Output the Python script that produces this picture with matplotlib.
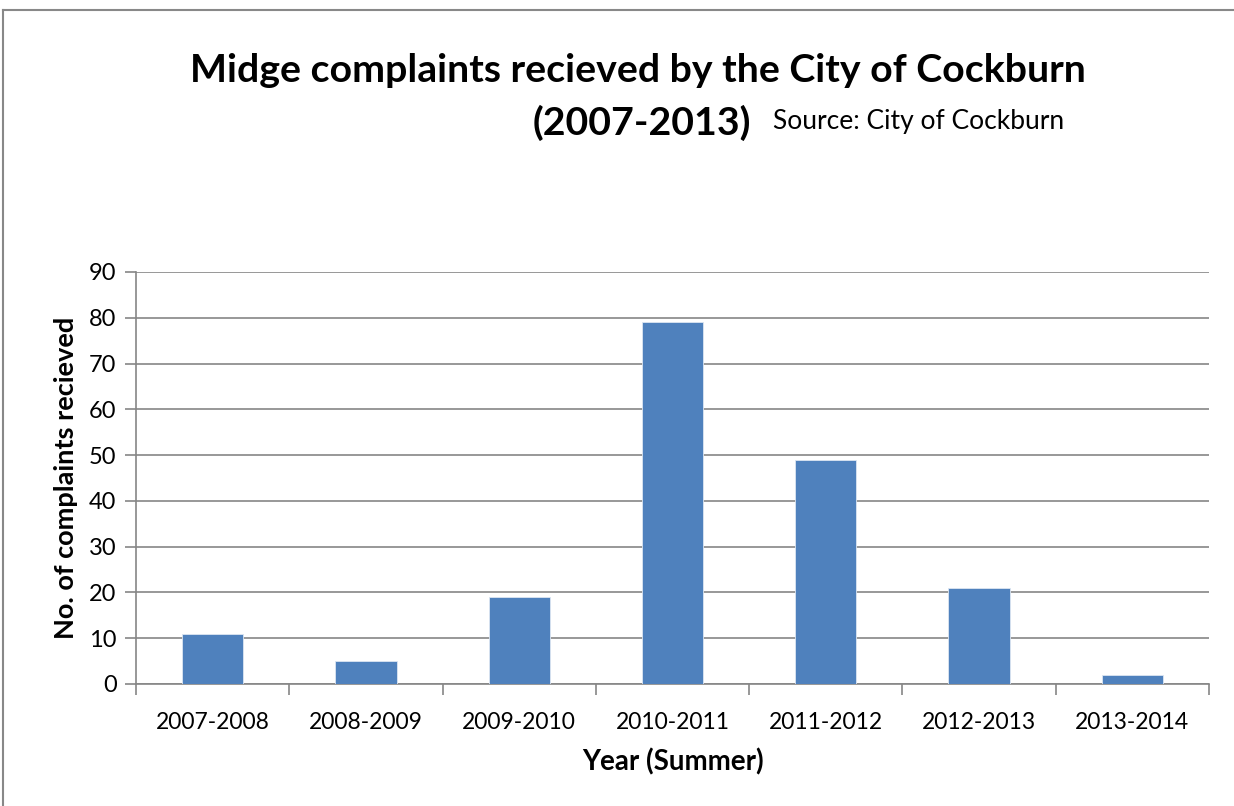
"""
Midge complaints bar chart (Excel-style column chart).
"""

import matplotlib.pyplot as plt
from matplotlib.lines import Line2D
import numpy as np

plt.rcParams["font.family"] = ["Lato", "DejaVu Sans"]

seasons = ["2007-2008", "2008-2009", "2009-2010", "2010-2011",
           "2011-2012", "2012-2013", "2013-2014"]
complaints = [11, 5, 19, 79, 49, 21, 2]
y_ticks = list(range(0, 100, 10))

BAR_COLOR = "#4F81BD"
GRID_COLOR = "#868686"

W, H = 1234, 806
fig = plt.figure(figsize=(W / 100, H / 100), dpi=100)
ax = fig.add_axes([136 / W, 1 - 684 / H, (1209 - 136) / W, (684 - 272) / H])

x = np.arange(len(seasons))
ax.bar(x, complaints, width=0.4, color=BAR_COLOR, edgecolor="#dce6f2",
       linewidth=0.6, zorder=3)

ax.set_xlim(-0.5, len(seasons) - 0.5)
ax.set_ylim(0, 90)
ax.set_yticks(y_ticks)
ax.yaxis.grid(True, color=GRID_COLOR, linewidth=1.2, zorder=0)
ax.set_axisbelow(True)

# category labels centred, tick marks at category boundaries
ax.set_xticks(x)
ax.set_xticklabels(seasons, fontsize=16.5)
ax.set_xticks(np.arange(-0.5, len(seasons)), minor=True)
ax.tick_params(axis="x", which="major", length=0, pad=20)
ax.tick_params(axis="x", which="minor", length=8, width=1.2, color=GRID_COLOR)
ax.tick_params(axis="y", labelsize=17, length=8, width=1.2, color=GRID_COLOR, pad=6)

for side in ("top", "right"):
    ax.spines[side].set_visible(False)
for side in ("left", "bottom"):
    ax.spines[side].set_color(GRID_COLOR)
    ax.spines[side].set_linewidth(1.2)

ax.set_ylabel("No. of complaints recieved", fontsize=19.5, fontweight="bold", labelpad=8)
ax.set_xlabel("Year (Summer)", fontsize=20, fontweight="bold", labelpad=11)

fig.text(638 / W, 1 - 70 / H, "Midge complaints recieved by the City of Cockburn",
         ha="center", va="center", fontsize=28.3, fontweight="bold")
fig.text(642 / W, 1 - 123 / H, "(2007-2013)",
         ha="center", va="center", fontsize=28.3, fontweight="bold")
fig.text(773 / W, 1 - 121 / H, "Source: City of Cockburn",
         ha="left", va="center", fontsize=19)

# chart-area border (cropped Excel frame)
fig.add_artist(Line2D([3 / W, 1], [1 - 10 / H, 1 - 10 / H], color="#888888", linewidth=1.5))
fig.add_artist(Line2D([3 / W, 3 / W], [0, 1 - 10 / H], color="#888888", linewidth=1.5))

fig.savefig("out.png", dpi=100)
plt.close(fig)
